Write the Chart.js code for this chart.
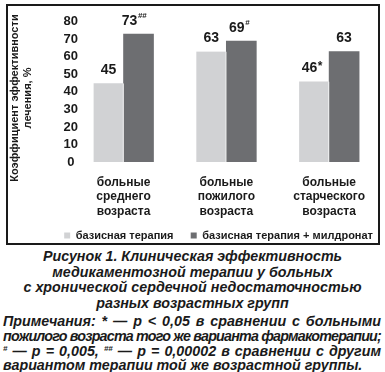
<!DOCTYPE html>
<html>
<head>
<meta charset="utf-8">
<script src="https://cdn.jsdelivr.net/npm/chart.js@4"></script>
<style>
  html, body { margin: 0; padding: 0; background: #fff; }
  body { width: 385px; height: 372px; overflow: hidden; position: relative; font-family: "Liberation Sans", Arial, sans-serif; color: #1a1a1a; }
  #frame { position: absolute; left: 6px; top: 4px; width: 370px; height: 237px; border: 2px solid #1a1a1a; }
  #frame canvas { display: block; }
  #caption { position: absolute; left: 0; top: 249px; width: 385px; text-align: center; font-weight: bold; font-style: italic; font-size: 14.3px; line-height: 15.5px; }
  #notes { position: absolute; left: 3px; top: 314px; width: 378px; font-weight: bold; font-style: italic; font-size: 14.3px; line-height: 14.8px; }
  #notes div { white-space: nowrap; text-align: justify; text-align-last: justify; }
  #notes div.last { text-align-last: left; }
  sup { font-size: 8px; line-height: 0; vertical-align: 5px; }
</style>
</head>
<body>
<div id="frame"><canvas id="chart" width="370" height="237"></canvas></div>
<div id="caption">
  <div>Рисунок 1. Клиническая эффективность</div>
  <div>медикаментозной терапии у больных</div>
  <div>с хронической сердечной недостаточностью</div>
  <div>разных возрастных групп</div>
</div>
<div id="notes">
  <div>Примечания: * — p &lt; 0,05 в сравнении с больными</div>
  <div style="letter-spacing:-0.8px;word-spacing:-1px">пожилого возраста того же варианта фармакотерапии;</div>
  <div><sup>#</sup> — p = 0,005, <sup>##</sup> — p = 0,00002 в сравнении с другим</div>
  <div class="last">вариантом терапии той же возрастной группы.</div>
</div>
<script>
const categories = [
    ['больные', 'среднего', 'возраста'],
    ['больные', 'пожилого', 'возраста'],
    ['больные', 'старческого', 'возраста']
];
const seriesNames = ['базисная терапия', 'базисная терапия + милдронат'];
const basicValues = [45, 63, 46];
const mildronateValues = [73, 69, 63];
const basicMarks = ['', '', '*'];
const mildronateMarks = ['##', '#', ''];
const yTicks = [0, 10, 20, 30, 40, 50, 60, 70, 80];

const FONT = '"Liberation Sans", Arial, sans-serif';
const INK = '#1a1a1a';
const GAP = '\u00a0\u00a0\u00a0\u00a0';

const toPoints = vals => vals.map((v, i) => ({ x: i, y: v }));

// value labels above bars, with significance marks as superscripts
const valueLabels = {
    id: 'valueLabels',
    afterDatasetsDraw(chart) {
        const ctx = chart.ctx;
        chart.data.datasets.forEach((ds, i) => {
            chart.getDatasetMeta(i).data.forEach((bar, j) => {
                const txt = String(ds.data[j].y);
                const mark = ds.marks[j];
                ctx.save();
                ctx.fillStyle = INK;
                ctx.textBaseline = 'middle';
                ctx.textAlign = 'left';
                ctx.font = 'bold 14px ' + FONT;
                const w = ctx.measureText(txt).width;
                let mw = 0;
                const markFont = (mark === '*' ? 'bold 12px ' : 'bold 8px ') + FONT;
                if (mark) { ctx.font = markFont; mw = ctx.measureText(mark).width; }
                const x0 = bar.x - w / 2 - mw;
                ctx.font = 'bold 14px ' + FONT;
                ctx.fillText(txt, x0, bar.y - 13);
                if (mark) {
                    ctx.font = markFont;
                    ctx.fillText(mark, x0 + w + 0.5, bar.y - (mark === '*' ? 15 : 18));
                }
                ctx.restore();
            });
        });
    }
};

new Chart(document.getElementById('chart').getContext('2d'), {
    type: 'bar',
    data: {
        datasets: [
            { label: seriesNames[0], data: toPoints(basicValues), marks: basicMarks,
              backgroundColor: '#d1d2d4', borderColor: '#ffffff', borderWidth: { right: 1 } },
            { label: seriesNames[1], data: toPoints(mildronateValues), marks: mildronateMarks,
              backgroundColor: '#6d6e71', borderWidth: 0 }
        ]
    },
    options: {
        responsive: false,
        animation: false,
        barThickness: 30,
        layout: { padding: { top: 14, right: 0, left: 0, bottom: -8 } },
        plugins: {
            tooltip: { enabled: false },
            legend: {
                position: 'bottom',
                align: 'end',
                labels: {
                    boxWidth: 6, boxHeight: 6, padding: 5, color: INK,
                    font: { family: FONT, weight: 'bold', size: 11 },
                    generateLabels: chart => chart.data.datasets.map((ds, i) => ({
                        text: i === 0 ? ds.label + GAP : ds.label,
                        fillStyle: ds.backgroundColor,
                        strokeStyle: ds.backgroundColor,
                        lineWidth: 0,
                        fontColor: INK,
                        datasetIndex: i
                    }))
                }
            }
        },
        scales: {
            x: {
                type: 'linear',
                min: -0.365, max: 2.365,
                offset: false,
                border: { display: false },
                grid: { display: false, drawTicks: false },
                afterBuildTicks: s => { s.ticks = categories.map((c, i) => ({ value: i })); },
                afterFit: s => { s.height = 63; },
                ticks: {
                    padding: 13,
                    color: INK,
                    maxRotation: 0,
                    autoSkip: false,
                    font: { family: FONT, weight: 'bold', size: 12, lineHeight: 1.22 },
                    callback: v => categories[v]
                }
            },
            y: {
                min: 0, max: 80,
                border: { display: false },
                grid: { display: false, drawTicks: false },
                afterBuildTicks: s => { s.ticks = yTicks.map(v => ({ value: v })); },
                afterFit: s => { s.width = 78; },
                ticks: {
                    padding: 8,
                    autoSkip: false,
                    crossAlign: 'center',
                    color: INK,
                    font: { family: FONT, weight: 'bold', size: 13 }
                },
                title: {
                    display: true,
                    text: ['Коэффициент эффективности' + GAP, 'лечения, %' + GAP],
                    color: INK,
                    padding: 0,
                    font: { family: FONT, weight: 'bold', size: 11, lineHeight: 1.2 }
                }
            }
        }
    },
    plugins: [valueLabels]
});
</script>
</body>
</html>
